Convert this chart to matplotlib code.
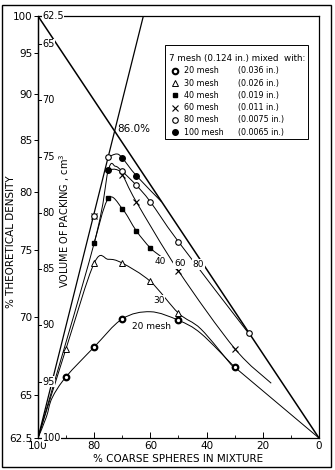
import numpy as np
import matplotlib
matplotlib.use("Agg")
import matplotlib.pyplot as plt
from matplotlib.path import Path
from matplotlib.patches import PathPatch, Rectangle

# values: % coarse spheres vs % theoretical density
# theoretical limits
c_theory1 = [100, 0]
d_theory1 = [100, 62.5]
c_theory2 = [100, 62.5]
d_theory2 = [62.5, 100]

# 20 mesh
c_20 = [100, 97, 95, 90, 80, 70, 60, 50, 42, 30]
d_20 = [62.5, 63.7, 64.8, 66.1, 68.0, 69.9, 70.4, 69.8, 68.9, 66.7]
c_20_tail = [30, 0]
d_20_tail = [66.7, 62.5]
pts_c_20 = [90, 80, 70, 50, 30]
pts_d_20 = [66.1, 68.0, 69.9, 69.8, 66.7]

# 30 mesh
c_30 = [100, 90, 80, 75, 70, 60, 50, 42, 31]
d_30 = [62.5, 67.9, 74.0, 74.3, 74.0, 72.6, 70.3, 69.2, 66.8]
pts_c_30 = [90, 80, 70, 60, 50]
pts_d_30 = [67.9, 74.0, 74.0, 72.6, 70.3]

# 40 mesh
c_40 = [80, 75, 70, 65, 60, 55.5]
d_40 = [75.6, 79.4, 78.5, 76.6, 75.2, 74.4]
pts_c_40 = [80, 75, 70, 65, 60]
pts_d_40 = [75.6, 79.4, 78.5, 76.6, 75.2]

# 60 mesh
c_60 = [75, 72.5, 70, 65, 50, 30, 17]
d_60 = [82.0, 82.1, 81.6, 79.1, 73.4, 67.9, 65.7]
pts_c_60 = [80, 70, 65, 50, 30]
pts_d_60 = [77.9, 81.6, 79.1, 73.4, 67.9]

# 80 mesh
c_80 = [100, 80, 75, 72.5, 70, 65, 60, 50, 25]
d_80 = [62.5, 75.6, 82.0, 82.4, 81.9, 80.6, 79.1, 75.7, 68.9]
pts_c_80 = [80, 75, 70, 65, 60, 50, 25]
pts_d_80 = [77.9, 83.3, 81.9, 80.6, 79.1, 75.7, 68.9]

# 100 mesh
c_100 = [75, 72, 70, 65, 56]
d_100 = [83.3, 83.6, 83.2, 81.5, 79.1]
pts_c_100 = [75, 70, 65]
pts_d_100 = [82.0, 83.2, 81.5]

dens_ticks = [100, 95, 90, 85, 80, 75, 70, 65, 62.5]
vol_ticks = [62.5, 65, 70, 75, 80, 85, 90, 95, 100]

legend_names = ["20 mesh", "30 mesh", "40 mesh", "60 mesh", "80 mesh", "100 mesh"]
legend_sizes = ["(0.036 in.)", "(0.026 in.)", "(0.019 in.)",
                "(0.011 in.)", "(0.0075 in.)", "(0.0065 in.)"]


def vol(d):
    # volume of packing (cm3) for a given % theoretical density
    return 6250.0 / np.asarray(d, dtype=float)


def smooth(ax, c, d, **kw):
    # catmull-rom curve through the read points
    pts = np.column_stack([c, vol(d)])
    p = np.vstack([pts[0], pts, pts[-1]])
    verts = [pts[0]]
    codes = [Path.MOVETO]
    for i in range(1, len(p) - 2):
        p0, p1, p2, p3 = p[i - 1], p[i], p[i + 1], p[i + 2]
        verts += [p1 + (p2 - p0) / 6, p2 - (p3 - p1) / 6, p2]
        codes += [Path.CURVE4] * 3
    ax.add_patch(PathPatch(Path(verts, codes), fill=False, **kw))


plt.rcParams['font.family'] = ['DejaVu Sans']
fig = plt.figure(figsize=(3.35, 4.70), dpi=100)
ax = fig.add_axes([0.1134, 0.068, 0.8388, 0.898])

line_kw = dict(color='black', lw=0.7)
ax.plot(c_theory1, vol(d_theory1), color='black', lw=1.1)
ax.plot(c_theory2, vol(d_theory2), color='black', lw=0.9)

smooth(ax, c_20, d_20, **line_kw)
ax.plot(c_20_tail, vol(d_20_tail), **line_kw)
smooth(ax, c_30, d_30, **line_kw)
smooth(ax, c_40, d_40, **line_kw)
smooth(ax, c_60, d_60, **line_kw)
smooth(ax, c_80, d_80, **line_kw)
smooth(ax, c_100, d_100, **line_kw)

mk = dict(ls='none', color='black', zorder=4)
ax.plot(pts_c_20, vol(pts_d_20), marker='o', ms=4.0, mfc='white', mew=1.6, **mk)
ax.plot(pts_c_30, vol(pts_d_30), marker='^', ms=3.8, mfc='white', mew=0.7, **mk)
ax.plot(pts_c_40, vol(pts_d_40), marker='s', ms=3.4, **mk)
ax.plot(pts_c_60, vol(pts_d_60), marker='x', ms=3.8, mew=0.8, **mk)
ax.plot(pts_c_80, vol(pts_d_80), marker='o', ms=4.0, mfc='white', mew=0.8, **mk)
ax.plot(pts_c_100, vol(pts_d_100), marker='o', ms=4.0, **mk)

# curve labels
lab = dict(fontsize=6.5, ha='center', va='center', zorder=5,
           bbox=dict(fc='white', ec='none', pad=0.6))
ax.text(56.5, 84.3, "40", **lab)
ax.text(49.5, 84.5, "60", **lab)
ax.text(43.0, 84.6, "80", **lab)
ax.text(57.0, 87.8, "30", **lab)
ax.text(66.5, 90.1, "20 mesh", fontsize=6.5, ha='left', va='center')
ax.text(71.8, 72.5, "86.0%", fontsize=7.5, ha='left', va='center')

ax.set_xlim(100, 0)
ax.set_ylim(100, 62.5)
ax.set_xticks([100, 80, 60, 40, 20, 0])
ax.set_xticks([90, 70, 50, 30, 10], minor=True)
ax.tick_params(axis='x', which='major', direction='in', length=4, width=0.7,
               labelsize=7.5, pad=2)
ax.tick_params(axis='x', which='minor', direction='in', length=2, width=0.6)

ax.set_yticks(vol(dens_ticks))
ax.set_yticklabels([f"{v:g}" for v in dens_ticks])
ax.tick_params(axis='y', direction='out', length=3, width=0.7, labelsize=7.5, pad=1)

sec = ax.secondary_yaxis('left')
sec.set_yticks(vol_ticks)
sec.tick_params(direction='in', length=3, width=0.7, labelleft=False)
sec.spines['left'].set_linewidth(0.9)
for v in vol_ticks:
    ax.text(0.016, v, f"{v:g}", transform=ax.get_yaxis_transform(), fontsize=7,
            ha='left', va='center', zorder=6, clip_on=False,
            bbox=dict(fc='white', ec='none', pad=0.3))

for s in ax.spines.values():
    s.set_linewidth(0.9)

fig.text(0.531, 0.024, "% COARSE SPHERES IN MIXTURE", fontsize=7.5,
         ha='center', va='center')
fig.text(0.032, 0.485, "% THEORETICAL DENSITY", fontsize=7.5, rotation=90,
         ha='center', va='center')
fig.text(0.192, 0.53, "VOLUME OF PACKING , cm$^3$", fontsize=7, rotation=90,
         ha='center', va='center')

# legend box
ax.add_patch(Rectangle((0.452, 0.709), 0.509, 0.222, transform=ax.transAxes,
                       fill=False, lw=0.7, color='black'))
ax.text(0.466, 0.899, "7 mesh (0.124 in.) mixed  with:", transform=ax.transAxes,
        fontsize=6.3, ha='left', va='center')
leg_marks = [dict(marker='o', ms=4, mfc='white', mew=1.5),
             dict(marker='^', ms=3.8, mfc='white', mew=0.7),
             dict(marker='s', ms=3.4),
             dict(marker='x', ms=3.8, mew=0.8),
             dict(marker='o', ms=4, mfc='white', mew=0.8),
             dict(marker='o', ms=4)]
for i, (name, size) in enumerate(zip(legend_names, legend_sizes)):
    y = 0.870 - i * 0.029
    ax.plot([0.488], [y], transform=ax.transAxes, color='black', ls='none',
            **leg_marks[i])
    ax.text(0.52, y, name, transform=ax.transAxes, fontsize=5.8, ha='left', va='center')
    ax.text(0.712, y, size, transform=ax.transAxes, fontsize=5.8, ha='left', va='center')

# outer frame of the scanned figure
fig.add_artist(Rectangle((0.0045, 0.0064), 0.9835, 0.9836, transform=fig.transFigure,
                         fill=False, lw=1.0, color='black'))

fig.savefig("out.png", dpi=100)
